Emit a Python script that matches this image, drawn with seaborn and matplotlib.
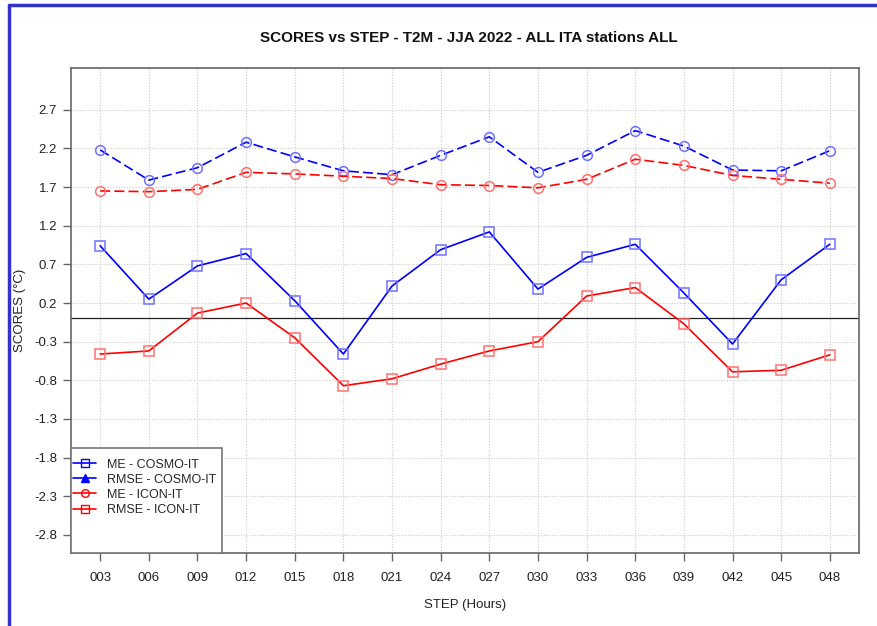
import numpy as np
import seaborn as sns
import matplotlib
matplotlib.use("Agg")
import matplotlib.pyplot as plt
from matplotlib.lines import Line2D
from matplotlib.patches import Rectangle

steps = ["003", "006", "009", "012", "015", "018", "021", "024",
         "027", "030", "033", "036", "039", "042", "045", "048"]

me_cosmo = [0.94, 0.25, 0.68, 0.84, 0.23, -0.46, 0.42, 0.89,
            1.12, 0.38, 0.79, 0.96, 0.33, -0.33, 0.50, 0.96]
rmse_cosmo = [2.18, 1.79, 1.95, 2.28, 2.09, 1.91, 1.86, 2.11,
              2.35, 1.89, 2.11, 2.43, 2.23, 1.92, 1.91, 2.17]
me_icon = [-0.46, -0.42, 0.07, 0.20, -0.25, -0.87, -0.78, -0.59,
           -0.42, -0.30, 0.29, 0.40, -0.07, -0.69, -0.67, -0.47]
rmse_icon = [1.65, 1.64, 1.67, 1.89, 1.87, 1.84, 1.81, 1.73,
             1.72, 1.69, 1.80, 2.06, 1.98, 1.85, 1.80, 1.75]

legend_labels = ["ME - COSMO-IT", "RMSE - COSMO-IT", "ME - ICON-IT", "RMSE - ICON-IT"]
yticks = [-2.8, -2.3, -1.8, -1.3, -0.8, -0.3, 0.2, 0.7, 1.2, 1.7, 2.2, 2.7]

sns.set_style("white")
plt.rcParams['font.family'] = ['Liberation Sans', 'DejaVu Sans']

W, H = 877, 626
L, R, B, T = 71, 859, 552.7, 68
fig = plt.figure(figsize=(W / 100, H / 100), dpi=100)
ax = fig.add_axes([L / W, 1 - B / H, (R - L) / W, (B - T) / H])

def ax_x(px):
    return (px - L) / (R - L)

def ax_y(py):
    return (B - py) / (B - T)

x = np.arange(len(steps))
blue = "#0000ff"
red = "#ff0000"
blue_m = "#7070ff"
red_m = "#ff7070"
dash = (6, 2.5)

ax.set_axisbelow(True)
ax.grid(True, color="#cccccc", linestyle=(0, (1, 1.5)), linewidth=0.8)
ax.axhline(0, color="#222222", linewidth=0.9, zorder=1)

sns.lineplot(x=x, y=rmse_cosmo, ax=ax, color=blue, linewidth=1.2, marker="o",
             markersize=7, markerfacecolor="none", markeredgecolor=blue_m,
             markeredgewidth=1.1, linestyle=(0, dash))
sns.lineplot(x=x, y=rmse_icon, ax=ax, color=red, linewidth=1.2, marker="o",
             markersize=7, markerfacecolor="none", markeredgecolor=red_m,
             markeredgewidth=1.1, linestyle=(0, dash))
sns.lineplot(x=x, y=me_cosmo, ax=ax, color=blue, linewidth=1.2, marker="s",
             markersize=7, markerfacecolor="none", markeredgecolor=blue_m,
             markeredgewidth=1.1)
sns.lineplot(x=x, y=me_icon, ax=ax, color=red, linewidth=1.2, marker="s",
             markersize=7, markerfacecolor="none", markeredgecolor=red_m,
             markeredgewidth=1.1)

ax.set_xlim(-0.6, 15.6)
ax.set_ylim(-3.03, 3.24)
ax.set_xticks(x)
ax.set_xticklabels(steps)
ax.set_yticks(yticks)
ax.set_yticklabels([f"{v:.1f}" for v in yticks])

for sp in ax.spines.values():
    sp.set_color("#666666")
    sp.set_linewidth(1.2)
ax.tick_params(axis="both", direction="out", length=6, width=1, color="#666666",
               labelsize=9.5, labelcolor="#222222", bottom=True, left=True)
ax.tick_params(axis="x", pad=8)
ax.tick_params(axis="y", pad=4)

ax.set_xlabel("STEP (Hours)", fontsize=9.5, color="#222222")
ax.xaxis.set_label_coords(ax_x(465), ax_y(605))
ax.xaxis.label.set_va("center")
ax.set_ylabel("SCORES (°C)", fontsize=9.5, color="#222222")
ax.yaxis.set_label_coords(ax_x(20), ax_y(310))
ax.yaxis.label.set_va("center")
fig.text(0.535, 1 - 38 / H, "SCORES vs STEP - T2M - JJA 2022 - ALL ITA stations ALL",
         ha="center", va="center", fontsize=11, fontweight="bold", color="#111111")

# legend box (frame drawn separately, entries at its top)
ax.add_patch(Rectangle((ax_x(71), 0), ax_x(221.7) - ax_x(71), ax_y(447.7),
                       transform=ax.transAxes, facecolor="white", edgecolor="#777777",
                       linewidth=1.2, zorder=5, clip_on=False))
handles = [
    Line2D([], [], color=blue, marker="s", markersize=5.5, markerfacecolor="none", linewidth=1.2),
    Line2D([], [], color=blue, marker="^", markersize=5.5, linewidth=1.2),
    Line2D([], [], color=red, marker="o", markersize=5.5, markerfacecolor="none", linewidth=1.2),
    Line2D([], [], color=red, marker="s", markersize=5.5, markerfacecolor="none", linewidth=1.2),
]
leg = ax.legend(handles, legend_labels, loc="upper left",
                bbox_to_anchor=(ax_x(73), ax_y(458.5)), borderaxespad=0, borderpad=0,
                fontsize=9, handlelength=1.85, handletextpad=0.9, labelspacing=0.25,
                frameon=False)
leg.set_zorder(6)

# blue frame on top and left edges
fig.add_artist(Line2D([9 / W, 1], [1 - 5 / H, 1 - 5 / H], color="#3333cc", linewidth=2.5,
                      transform=fig.transFigure))
fig.add_artist(Line2D([9 / W, 9 / W], [0, 1 - 5 / H], color="#3333cc", linewidth=2.5,
                      transform=fig.transFigure))

fig.savefig("out.png", dpi=100)
